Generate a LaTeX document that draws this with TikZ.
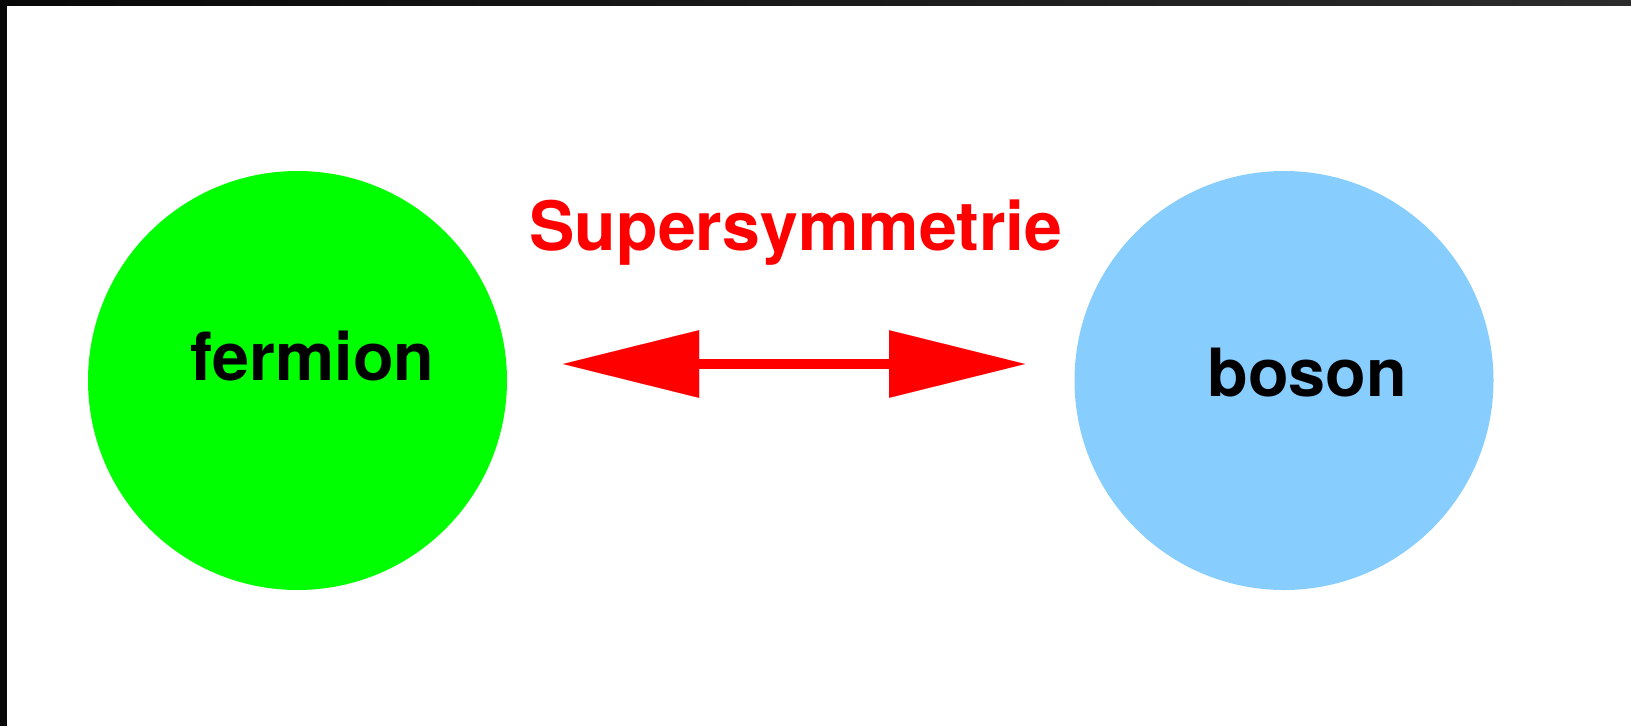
\documentclass[tikz,border=0pt]{standalone}
\usepackage{fontspec}
\setmainfont{TeX Gyre Heros}
\usetikzlibrary{arrows.meta}
\definecolor{fermgreen}{RGB}{0,255,0}
\definecolor{bosblue}{RGB}{135,206,255}
\definecolor{susyred}{RGB}{255,0,0}
\definecolor{framedark}{RGB}{8,8,8}
\definecolor{framegray}{RGB}{44,44,44}
\tikzset{
  particle/.style={circle, minimum size=419pt, inner sep=0pt},
  lbl/.style={font=\fontsize{66.5}{78}\selectfont\bfseries, text=black, anchor=base, inner sep=0pt},
  susy/.style={font=\fontsize{68}{80}\selectfont\bfseries, text=susyred, anchor=base, inner sep=0pt},
  dblarrow/.style={draw=susyred, line width=10.3pt,
    {Triangle[length=136pt,width=67.6pt,line width=0.01pt,fill=susyred]}-{Triangle[length=136pt,width=67.6pt,line width=0.01pt,fill=susyred]}}
}
\begin{document}
\begin{tikzpicture}[x=1pt,y=-1pt]
\useasboundingbox (0,0) rectangle (1631,726);
\fill[white] (0,0) rectangle (1631,726);
\shade[left color=framedark, right color=framegray] (0,0) rectangle (1631,5);
\fill[framedark] (0,0) rectangle (7,726);
\node[particle, fill=fermgreen] (fc) at (297.5,380.5) {};
\node[particle, fill=bosblue] (bc) at (1284,380.5) {};
\node[lbl] (fermion) at (312.6,380.5) {fermion};
\node[lbl] (boson) at (1307.4,396) {boson};
\node[susy] (susytext) at (796,250) {Supersymmetrie};
\coordinate (aL) at (563,364);
\coordinate (aR) at (1025,364);
\draw[dblarrow] (aL) -- (aR);
\end{tikzpicture}
\end{document}
